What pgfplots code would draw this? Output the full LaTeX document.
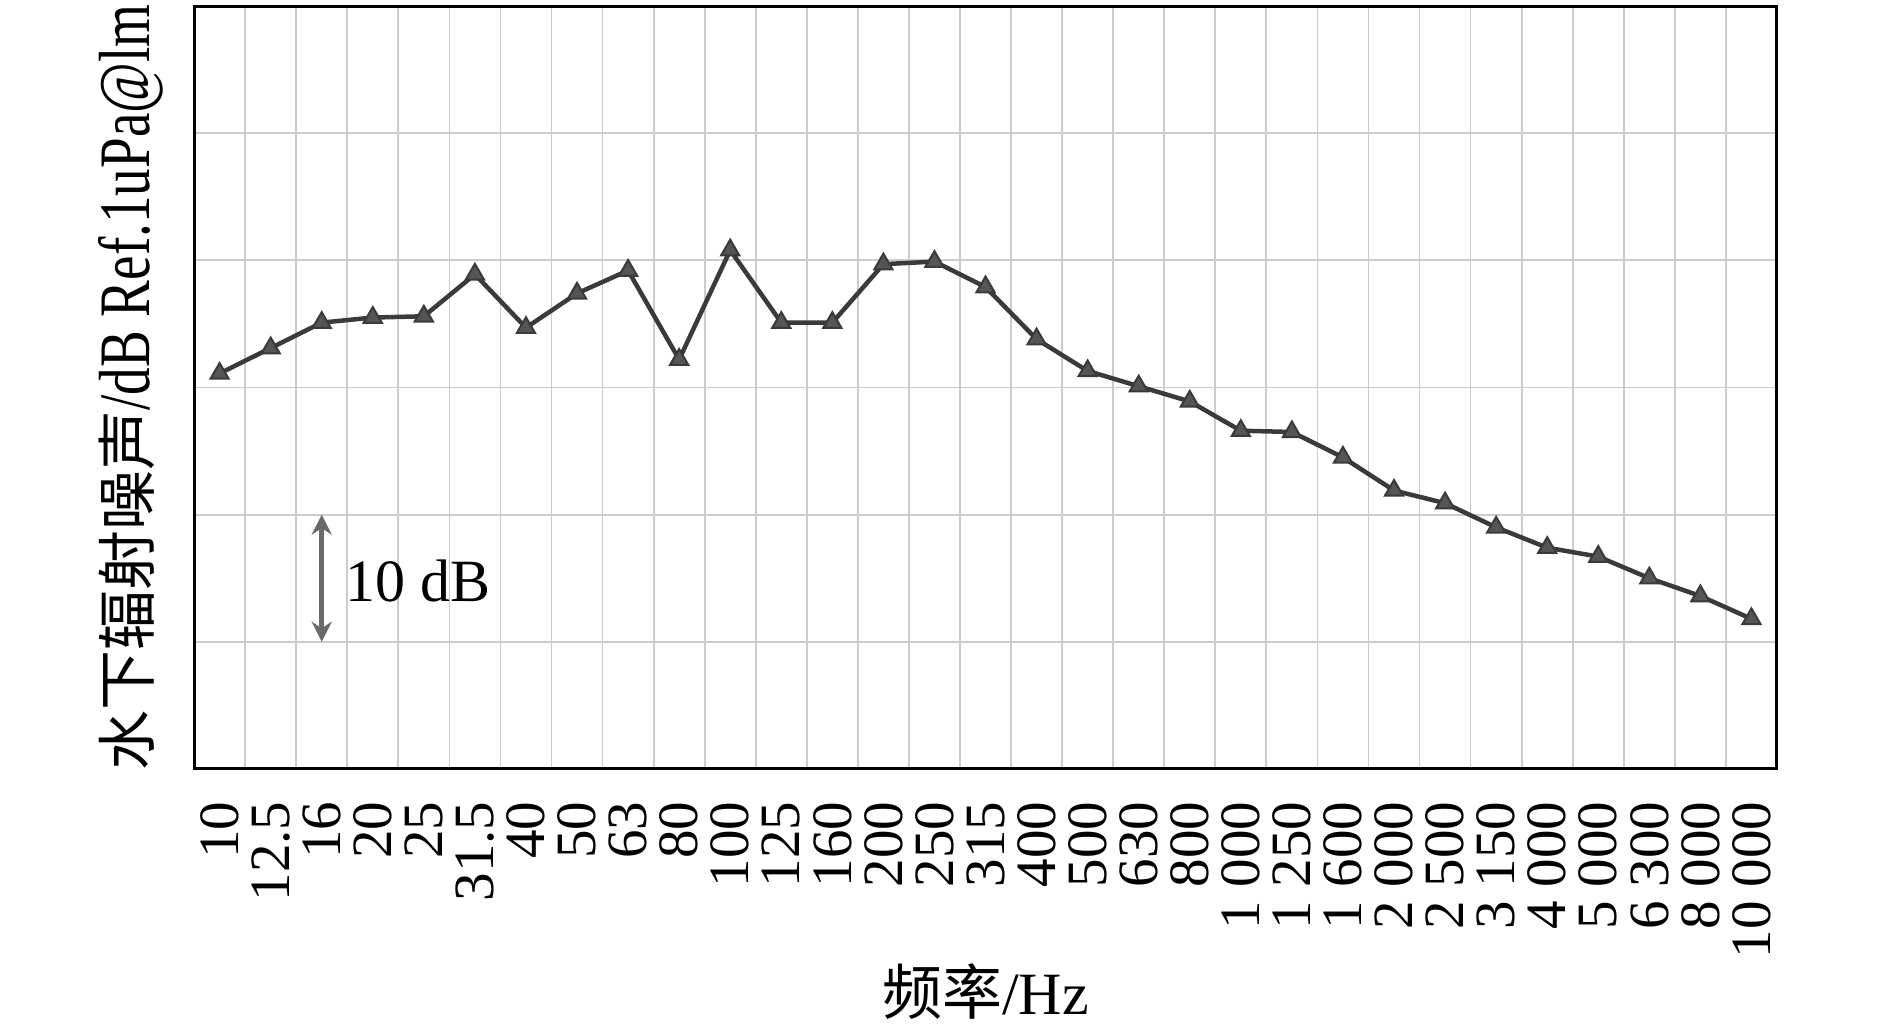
\documentclass[border=0pt]{standalone}
\usepackage{fontspec}
\setmainfont{Liberation Serif}
\newfontfamily\cjk{Noto Sans CJK SC}
\usepackage{graphicx}
\usepackage{pgfplots}
\pgfplotsset{compat=1.18}
\usetikzlibrary{arrows.meta}

\definecolor{gridgray}{HTML}{CCCCCC}
\definecolor{linegray}{HTML}{3A3A3A}
\definecolor{markgray}{HTML}{555555}
\definecolor{arrowgray}{HTML}{6A6A6A}

% band index vs level (dB), 10 dB per grid line
\pgfplotstableread{
idx level
0 31.1
1 33.1
2 35.1
3 35.5
4 35.6
5 38.9
6 34.7
7 37.4
8 39.2
9 32.2
10 40.8
11 35.1
12 35.1
13 39.7
14 39.9
15 37.9
16 33.8
17 31.3
18 30.1
19 28.9
20 26.6
21 26.5
22 24.5
23 21.9
24 20.9
25 19.0
26 17.4
27 16.7
28 15.0
29 13.6
30 11.8
}\noise

\begin{document}
\begin{tikzpicture}
\begin{axis}[
    scale only axis,
    width=316.6pt, height=152.6pt,
    xmin=-0.5, xmax=30.5,
    ymin=0, ymax=60,
    xtick={0,...,30},
    xticklabels={10,12.5,16,20,25,31.5,40,50,63,80,100,125,160,200,250,315,400,500,630,800,1 000,1 250,1 600,2 000,2 500,3 150,4 000,5 000,6 300,8 000,10 000},
    minor xtick={0.5,1.5,...,29.5},
    ytick={10,20,30,40,50},
    yticklabels={},
    xminorgrids, ymajorgrids,
    major tick length=0pt, minor tick length=0pt,
    grid style={draw=gridgray, line width=0.35pt},
    minor grid style={draw=gridgray, line width=0.35pt},
    axis line style={black, line width=0.6pt},
    xticklabel shift=3pt,
    xticklabel style={rotate=90, anchor=east, font=\fontsize{11.4}{13}\selectfont},
    xlabel={{\cjk 频率}/Hz},
    xlabel style={at={(axis description cs:0.5,-0.292)}, anchor=center, font=\fontsize{12}{14}\selectfont},
    ylabel={{\cjk\fontsize{12}{14}\selectfont 水下辐射噪声}\scalebox{0.76}[1]{\fontsize{14.5}{16}\selectfont /dB Ref.1uPa@lm}},
    ylabel style={at={(axis description cs:-0.04,0.5)}, anchor=center, rotate=0},
    clip=false,
]
\addplot[color=linegray, line width=0.9pt,
    mark=triangle*, mark size=2.1pt,
    mark options={fill=markgray, draw=linegray, line width=0.4pt}]
    table[x=idx, y=level] {\noise};

\draw[arrowgray, line width=1pt,
    {Stealth[length=4pt,width=4pt]}-{Stealth[length=4pt,width=4pt]}]
    (axis cs:2,10) -- (axis cs:2,20);
\node[anchor=west, font=\fontsize{12}{14}\selectfont, inner sep=0pt]
    at (axis cs:2.45,14.8) {10 dB};

\coordinate (bbsw) at (axis description cs:-0.1226,-0.346);
\coordinate (bbne) at (axis description cs:1.0714,1.0079);
\end{axis}
\pgfresetboundingbox
\path[use as bounding box] (bbsw) rectangle (bbne);
\end{tikzpicture}
\end{document}
